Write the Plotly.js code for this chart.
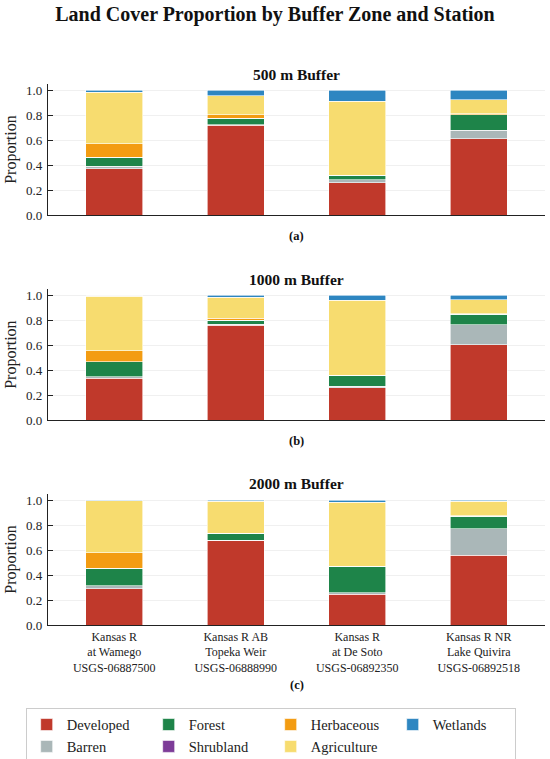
<!DOCTYPE html>
<html>
<head>
<meta charset="utf-8">
<script src="https://cdn.plot.ly/plotly-3.0.1.min.js"></script>
<style>html,body{margin:0;padding:0;background:#fff;}#chart{width:550px;height:759px;}</style>
</head>
<body>
<div id="chart"></div>
<script>
// ---- Data ----
var stations = [
  "Kansas R<br>at Wamego<br>USGS-06887500",
  "Kansas R AB<br>Topeka Weir<br>USGS-06888990",
  "Kansas R<br>at De Soto<br>USGS-06892350",
  "Kansas R NR<br>Lake Quivira<br>USGS-06892518"
];
var coverClasses = ["Developed", "Barren", "Forest", "Shrubland", "Herbaceous", "Agriculture", "Wetlands"];
var buffers = ["500 m Buffer", "1000 m Buffer", "2000 m Buffer"];
var panelLabels = ["(a)", "(b)", "(c)"];

// 500 m buffer
var developed500   = [0.370, 0.720, 0.260, 0.610];
var barren500      = [0.020, 0.005, 0.025, 0.070];
var forest500      = [0.075, 0.050, 0.035, 0.125];
var shrubland500   = [0.000, 0.000, 0.000, 0.000];
var herbaceous500  = [0.105, 0.030, 0.000, 0.005];
var agriculture500 = [0.415, 0.150, 0.590, 0.115];
var wetlands500    = [0.015, 0.045, 0.090, 0.075];

// 1000 m buffer
var developed1000   = [0.335, 0.760, 0.260, 0.605];
var barren1000      = [0.012, 0.010, 0.012, 0.160];
var forest1000      = [0.120, 0.030, 0.088, 0.083];
var shrubland1000   = [0.000, 0.000, 0.000, 0.000];
var herbaceous1000  = [0.090, 0.015, 0.000, 0.005];
var agriculture1000 = [0.435, 0.170, 0.600, 0.112];
var wetlands1000    = [0.004, 0.015, 0.040, 0.035];

// 2000 m buffer
var developed2000   = [0.290, 0.675, 0.245, 0.560];
var barren2000      = [0.025, 0.005, 0.012, 0.210];
var forest2000      = [0.140, 0.055, 0.215, 0.100];
var shrubland2000   = [0.000, 0.000, 0.000, 0.000];
var herbaceous2000  = [0.125, 0.000, 0.000, 0.003];
var agriculture2000 = [0.415, 0.255, 0.512, 0.117];
var wetlands2000    = [0.005, 0.010, 0.016, 0.010];

var yTickVals = [0, 0.2, 0.4, 0.6, 0.8, 1.0];
var yTickText = ["0.0", "0.2", "0.4", "0.6", "0.8", "1.0"];

// ---- Styling ----
var colors = {
  "Developed": "#c0392b", "Barren": "#aab7b8", "Forest": "#1e8449",
  "Shrubland": "#7d3c98", "Herbaceous": "#f39c12", "Agriculture": "#f7dc6f",
  "Wetlands": "#2e86c1"
};
// legend laid out row-wise (Plotly) to mimic column-wise order of reference
var legendRanks = {"Developed":1, "Forest":2, "Herbaceous":3, "Wetlands":4, "Barren":5, "Shrubland":6, "Agriculture":7};

var panelData = [
  [developed500, barren500, forest500, shrubland500, herbaceous500, agriculture500, wetlands500],
  [developed1000, barren1000, forest1000, shrubland1000, herbaceous1000, agriculture1000, wetlands1000],
  [developed2000, barren2000, forest2000, shrubland2000, herbaceous2000, agriculture2000, wetlands2000]
];

var FONT = "Liberation Serif, Times New Roman, serif";
var traces = [];
panelData.forEach(function (series, p) {
  series.forEach(function (vals, c) {
    var name = coverClasses[c];
    traces.push({
      type: "bar",
      x: stations,
      y: vals,
      name: name,
      legendgroup: name,
      legendrank: legendRanks[name],
      showlegend: p === 0,
      width: 0.47,
      marker: {color: colors[name], line: {color: "#ffffff", width: 0.6}},
      xaxis: p === 0 ? "x" : "x" + (p + 1),
      yaxis: p === 0 ? "y" : "y" + (p + 1),
      hoverinfo: "name+y"
    });
  });
});

var H = 541.55; // plot area height in px
function py(pix) { return (625.3 - pix) / H; }

var domains = [[py(215), py(83.75)], [py(420.3), py(289)], [py(625.3), py(494)]];

function yAxis(dom) {
  return {
    domain: dom, range: [0, 1.05], tickvals: yTickVals, ticktext: yTickText,
    ticks: "inside", ticklen: 5, tickwidth: 1, tickcolor: "#222",
    showline: true, linecolor: "#222", linewidth: 1.2,
    showgrid: true, gridcolor: "#ececec", gridwidth: 0.8, zeroline: false,
    tickfont: {family: FONT, size: 13, color: "#222"},
    ticklabelstandoff: 2,
    title: {text: "Proportion", font: {family: FONT, size: 16, color: "#222"}, standoff: 5},
    fixedrange: true
  };
}
function xAxis(showLabels, anchor) {
  return {
    anchor: anchor, range: [-0.545, 3.545], type: "category",
    showline: true, linecolor: "#222", linewidth: 1.2, showgrid: false, zeroline: false,
    ticks: "", showticklabels: showLabels,
    tickfont: {family: FONT, size: 12, color: "#222"},
    fixedrange: true
  };
}

var annotations = [];
var titleY = [74, 279, 484];
var labelY = [236, 441, 685];
buffers.forEach(function (b, i) {
  annotations.push({text: "<b>" + b + "</b>", xref: "paper", yref: "paper", x: 0.5, y: py(titleY[i]),
    yanchor: "middle", xanchor: "center", showarrow: false, font: {family: FONT, size: 15.5, color: "#111"}});
  annotations.push({text: "<b>" + panelLabels[i] + "</b>", xref: "paper", yref: "paper", x: 0.5, y: py(labelY[i]),
    yanchor: "middle", xanchor: "center", showarrow: false, font: {family: FONT, size: 12.5, color: "#111"}});
});

var layout = {
  width: 550, height: 759,
  margin: {l: 48.3, r: 5, t: 83.75, b: 133.7, autoexpand: false},
  paper_bgcolor: "#ffffff", plot_bgcolor: "#ffffff",
  barmode: "stack",
  bargap: 0,
  title: {text: "<b>Land Cover Proportion by Buffer Zone and Station</b>", x: 0.5, xref: "container",
    y: 1 - 14 / 759, yref: "container", yanchor: "middle", xanchor: "center",
    font: {family: FONT, size: 20, color: "#111"}},
  xaxis: xAxis(false, "y"),
  xaxis2: xAxis(false, "y2"),
  xaxis3: xAxis(true, "y3"),
  yaxis: yAxis(domains[0]),
  yaxis2: yAxis(domains[1]),
  yaxis3: yAxis(domains[2]),
  annotations: annotations,
  showlegend: true,
  legend: {
    orientation: "h", x: (26 - 48.3) / 496.7, xanchor: "left", y: py(708), yanchor: "top",
    entrywidth: 77, entrywidthmode: "pixels", traceorder: "normal",
    bordercolor: "#cccccc", borderwidth: 1, bgcolor: "#ffffff",
    font: {family: FONT, size: 14.5, color: "#222"}
  }
};

Plotly.newPlot("chart", traces, layout, {displayModeBar: false, staticPlot: true});
</script>
</body>
</html>
